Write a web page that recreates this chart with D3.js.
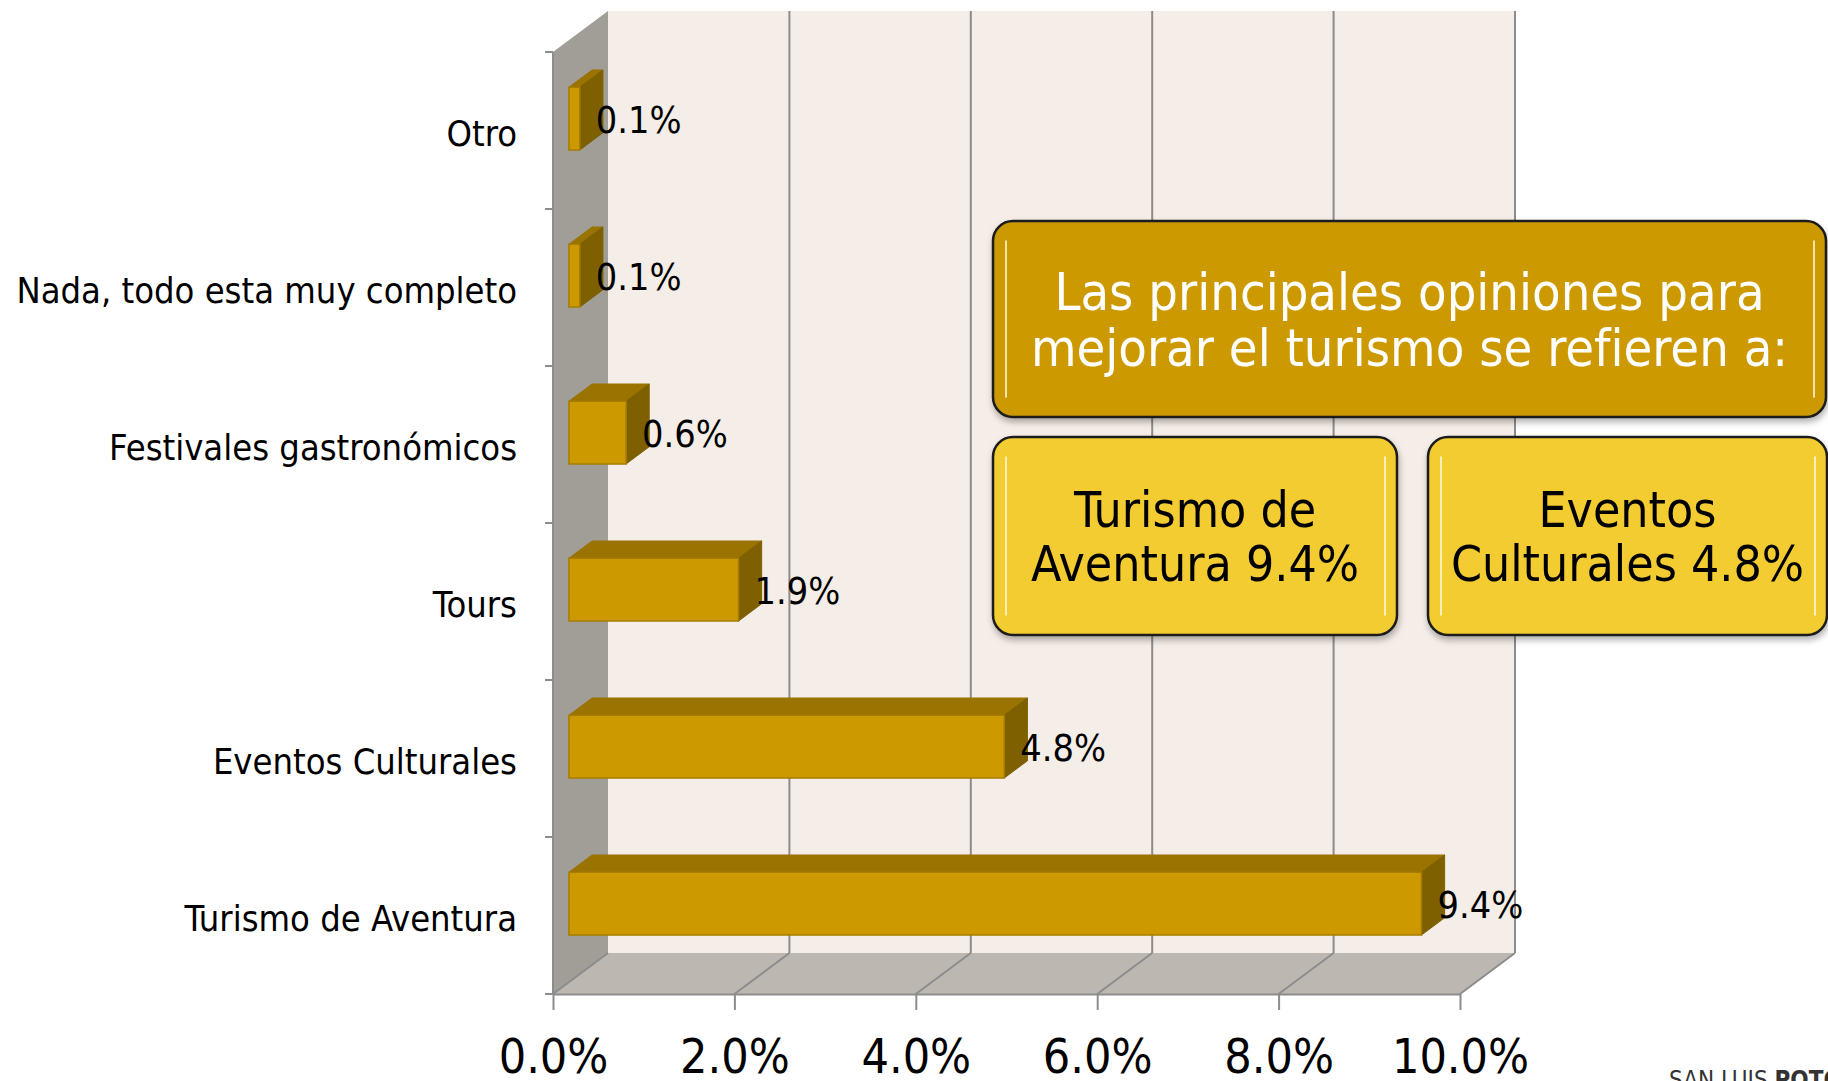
<!DOCTYPE html>
<html lang="es">
<head>
    <meta charset="UTF-8">
    <title>Opiniones para mejorar el turismo</title>
    <script type="application/javascript" src="https://cdn.jsdelivr.net/npm/d3@7/dist/d3.min.js"></script>
    <style type="text/css">
        body {
            margin: 0;
            background: #fff;
        }

        svg text {
            font-family: "DejaVu Sans Condensed", "DejaVu Sans", sans-serif;
            font-stretch: condensed;
        }

        .axis--x path,
        .axis--x line {
            stroke: #8c8c8c;
            stroke-width: 2;
        }

        .axis--y path {
            display: none;
        }
    </style>
</head>
<body>
<svg id="chart" width="1828" height="1081"></svg>
<script type="application/javascript">
    // data
    var categories = [
        'Otro',
        'Nada, todo esta muy completo',
        'Festivales gastronómicos',
        'Tours',
        'Eventos Culturales',
        'Turismo de Aventura'
    ];
    var values = [0.0012, 0.0012, 0.0063, 0.0187, 0.048, 0.094];
    var xTicks = [0, 0.02, 0.04, 0.06, 0.08, 0.10];

    var headline = ['Las principales opiniones para', 'mejorar el turismo se refieren a:'];
    var highlightTexts = [
        ['Turismo de', 'Aventura 9.4%'],
        ['Eventos', 'Culturales 4.8%']
    ];

    (function () {
        var svg = d3.select('#chart');

        // front plane of the 3d box
        var left = 553, right = 1460, top = 52, bottom = 994;
        var DX = 55, DY = -41;           // wall depth
        var z0 = 0.29, z1 = 0.71;        // bar depth inside the wall

        var x = d3.scaleLinear().domain([0, 0.10]).range([left, right]);
        var y = d3.scaleBand().domain(categories).range([top, bottom])
                .paddingInner(0.6).paddingOuter(0.3);

        var fmt = d3.format('.1%');

        var defs = svg.append('defs');
        var shadow = defs.append('filter').attr('id', 'shadow')
                .attr('x', '-10%').attr('y', '-10%').attr('width', '120%').attr('height', '130%');
        shadow.append('feDropShadow')
                .attr('dx', 1).attr('dy', 4).attr('stdDeviation', 3)
                .attr('flood-color', '#000').attr('flood-opacity', 0.3);
        var glow = defs.append('filter').attr('id', 'glow')
                .attr('x', '-200%').attr('width', '500%');
        glow.append('feGaussianBlur').attr('stdDeviation', 0.8);

        function pts(arr) {
            return arr.map(function (p) { return p[0] + ',' + p[1]; }).join(' ');
        }

        // walls
        svg.append('polygon')  // back wall
                .attr('points', pts([[left + DX, top + DY], [right + DX, top + DY],
                    [right + DX, bottom + DY], [left + DX, bottom + DY]]))
                .attr('fill', '#f5ede7');
        svg.append('polygon')  // left wall
                .attr('points', pts([[left, top], [left + DX, top + DY],
                    [left + DX, bottom + DY], [left, bottom]]))
                .attr('fill', '#a19e98');
        svg.append('polygon')  // floor
                .attr('points', pts([[left, bottom], [left + DX, bottom + DY],
                    [right + DX, bottom + DY], [right, bottom]]))
                .attr('fill', '#bcb7b1');

        // grid lines on back wall and floor
        var grid = svg.append('g').attr('stroke', '#8c8c8c').attr('stroke-width', 2);
        grid.selectAll('.gv').data(xTicks.slice(1)).enter().append('line')
                .attr('x1', function (d) { return x(d) + DX; })
                .attr('x2', function (d) { return x(d) + DX; })
                .attr('y1', top + DY)
                .attr('y2', bottom + DY);
        grid.selectAll('.gf').data(xTicks).enter().append('line')
                .attr('x1', function (d) { return x(d); })
                .attr('x2', function (d) { return x(d) + DX; })
                .attr('y1', bottom)
                .attr('y2', bottom + DY);
        grid.append('line')
                .attr('x1', left).attr('x2', left)
                .attr('y1', top).attr('y2', bottom);

        // left ticks at band edges
        var step = y.step();
        var edges = d3.range(categories.length + 1).map(function (i) {
            return y(categories[0]) - (step - y.bandwidth()) / 2 + i * step;
        });
        grid.selectAll('.ty').data(edges).enter().append('line')
                .attr('x1', left - 8).attr('x2', left)
                .attr('y1', function (d) { return d; })
                .attr('y2', function (d) { return d; });

        // x axis
        var xAxis = svg.append('g')
                .attr('class', 'axis--x')
                .attr('transform', 'translate(0,' + bottom + ')')
                .call(d3.axisBottom(x).tickValues(xTicks).tickFormat(fmt)
                        .tickSize(16).tickSizeOuter(0).tickPadding(29));
        xAxis.selectAll('text')
                .attr('fill', '#000')
                .style('font-size', '48px');

        // y axis labels
        var yAxis = svg.append('g')
                .attr('class', 'axis--y')
                .attr('transform', 'translate(' + left + ',0)')
                .call(d3.axisLeft(y).tickSize(0).tickPadding(36));
        yAxis.selectAll('text')
                .attr('fill', '#000')
                .attr('dy', '0.42em')
                .style('font-size', '36px');

        // 3d bars
        var fx0 = DX * z0, fy0 = DY * z0, fx1 = DX * z1, fy1 = DY * z1;
        var bars = svg.append('g').selectAll('.bar')
                .data(categories.map(function (c, i) { return {cat: c, v: values[i]}; }))
                .enter().append('g');

        bars.append('polygon')  // top
                .attr('points', function (d) {
                    var yt = y(d.cat), xa = x(0), xb = x(d.v);
                    return pts([[xa + fx0, yt + fy0], [xa + fx1, yt + fy1],
                        [xb + fx1, yt + fy1], [xb + fx0, yt + fy0]]);
                })
                .attr('fill', '#9a7300')
                .attr('stroke', '#9a7300').attr('stroke-width', 1);
        bars.append('polygon')  // side
                .attr('points', function (d) {
                    var yt = y(d.cat), yb = yt + y.bandwidth(), xb = x(d.v);
                    return pts([[xb + fx0, yt + fy0], [xb + fx1, yt + fy1],
                        [xb + fx1, yb + fy1], [xb + fx0, yb + fy0]]);
                })
                .attr('fill', '#7e6000')
                .attr('stroke', '#7e6000').attr('stroke-width', 1);
        bars.append('rect')  // front
                .attr('x', x(0) + fx0)
                .attr('y', function (d) { return y(d.cat) + fy0; })
                .attr('width', function (d) { return x(d.v) - x(0); })
                .attr('height', y.bandwidth())
                .attr('fill', '#cc9900')
                .attr('stroke', '#a67c00').attr('stroke-width', 1.5);

        bars.append('text')
                .attr('x', function (d) { return x(d.v) + fx0 + 16; })
                .attr('y', function (d) { return y(d.cat) + fy0 + y.bandwidth() / 2; })
                .attr('dy', '0.38em')
                .style('font-size', '37.5px')
                .attr('fill', '#000')
                .text(function (d) { return fmt(d.v); });

        // callout boxes
        function box(bx, by, bw, bh, fill, lines, color, size, lineH) {
            var g = svg.append('g');
            g.append('rect')
                    .attr('x', bx).attr('y', by).attr('width', bw).attr('height', bh)
                    .attr('rx', 20).attr('ry', 20)
                    .attr('fill', fill)
                    .attr('stroke', '#1a1a1a').attr('stroke-width', 2.5)
                    .attr('filter', 'url(#shadow)');
            [bx + 13, bx + bw - 12].forEach(function (lx) {
                g.append('line')
                        .attr('x1', lx).attr('x2', lx)
                        .attr('y1', by + 18).attr('y2', by + bh - 18)
                        .attr('stroke', '#fff39a').attr('stroke-width', 5)
                        .attr('stroke-linecap', 'round')
                        .attr('filter', 'url(#glow)');
                g.append('line')
                        .attr('x1', lx).attr('x2', lx)
                        .attr('y1', by + 20).attr('y2', by + bh - 20)
                        .attr('stroke', '#fffde0').attr('stroke-width', 1.5)
                        .attr('stroke-linecap', 'round');
            });
            var cy = by + bh / 2;
            g.selectAll('text').data(lines).enter().append('text')
                    .attr('x', bx + bw / 2)
                    .attr('y', function (d, i) { return cy + (i - (lines.length - 1) / 2) * lineH; })
                    .attr('dy', '0.36em')
                    .attr('text-anchor', 'middle')
                    .attr('fill', color)
                    .style('font-size', size + 'px')
                    .text(function (d) { return d; });
        }

        box(993, 221, 833, 196, '#cc9900', headline, '#fff', 52, 56);
        box(993, 437, 404, 198, '#f3cc30', highlightTexts[0], '#000', 49.5, 54);
        box(1428, 437, 399, 198, '#f3cc30', highlightTexts[1], '#000', 49.5, 54);

        // logo text, clipped by the page edge
        var logo = svg.append('text')
                .attr('x', 1669).attr('y', 1088)
                .attr('fill', '#333')
                .style('font-size', '24px');
        logo.append('tspan').text('SAN LUIS ');
        logo.append('tspan').style('font-weight', 'bold').text('POTOSÍ');
    })();
</script>
</body>
</html>
